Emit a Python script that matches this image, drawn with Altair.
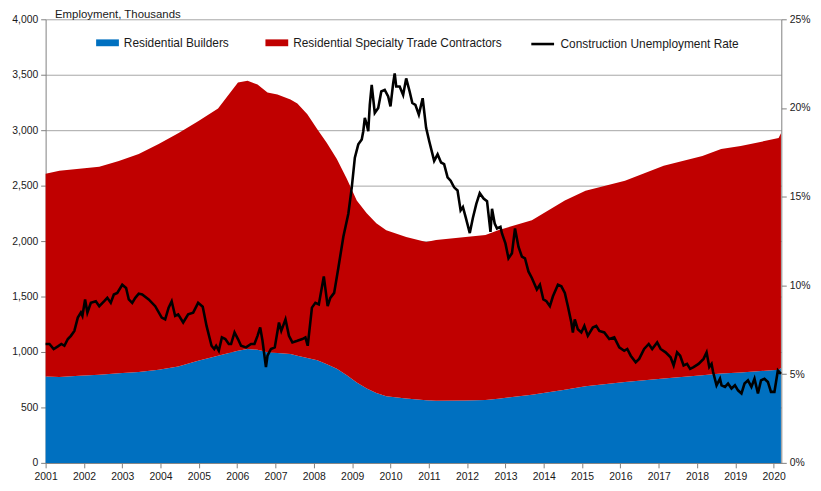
import altair as alt
import pandas as pd

# ---- Employment (thousands) ----
area_year = [2001.00, 2001.36, 2001.88, 2002.40, 2002.91, 2003.43, 2003.95, 2004.46, 2004.98, 2005.50,
             2006.02, 2006.27, 2006.53, 2006.79, 2007.05, 2007.39, 2007.57, 2007.83, 2008.09, 2008.34,
             2008.60, 2008.86, 2009.12, 2009.38, 2009.63, 2009.89, 2010.41, 2010.93, 2011.19, 2011.96,
             2012.48, 2012.81, 2013.69, 2014.55, 2015.09, 2016.12, 2017.13, 2018.14, 2018.63, 2019.14,
             2020.13, 2020.19]
builders = [780, 775, 785, 795, 808, 820, 840, 870, 922, 967,
            1012, 1027, 1020, 997, 990, 982, 965, 945, 925, 890,
            848, 790, 725, 670, 630, 600, 580, 565, 560, 562,
            568, 578, 615, 660, 690, 730, 760, 790, 805, 815,
            840, 855]
specialty = [1827, 1859, 1867, 1875, 1915, 1966, 2035, 2103, 2158, 2229,
             2417, 2419, 2391, 2342, 2331, 2295, 2276, 2198, 2084, 1994,
             1893, 1773, 1641, 1580, 1531, 1498, 1456, 1426, 1449, 1474,
             1486, 1520, 1573, 1706, 1765, 1815, 1919, 1978, 2025, 2042,
             2089, 2118]

# ---- Construction unemployment rate (%) ----
rate_year = [2001.00, 2001.10, 2001.21, 2001.32, 2001.41, 2001.49, 2001.58, 2001.66, 2001.75, 2001.84,
             2001.92, 2001.96, 2002.03, 2002.09, 2002.18, 2002.31, 2002.40, 2002.53, 2002.61, 2002.70,
             2002.78, 2002.87, 2003.00, 2003.10, 2003.17, 2003.26, 2003.34, 2003.43, 2003.52, 2003.69,
             2003.86, 2004.03, 2004.12, 2004.21, 2004.29, 2004.38, 2004.46, 2004.59, 2004.72, 2004.85,
             2004.98, 2005.10, 2005.20, 2005.33, 2005.40, 2005.45, 2005.52, 2005.60, 2005.69, 2005.78,
             2005.84, 2005.93, 2006.02, 2006.10, 2006.23, 2006.36, 2006.45, 2006.53, 2006.60, 2006.66,
             2006.75, 2006.79, 2006.88, 2006.98, 2007.09, 2007.15, 2007.26, 2007.35, 2007.44, 2007.57,
             2007.70, 2007.78, 2007.84, 2007.95, 2008.04, 2008.13, 2008.26, 2008.36, 2008.43, 2008.53,
             2008.64, 2008.77, 2008.90, 2008.99, 2009.07, 2009.16, 2009.25, 2009.29, 2009.33, 2009.38,
             2009.42, 2009.46, 2009.51, 2009.59, 2009.68, 2009.76, 2009.85, 2009.94, 2010.00, 2010.07,
             2010.11, 2010.15, 2010.24, 2010.33, 2010.41, 2010.50, 2010.57, 2010.65, 2010.74, 2010.84,
             2010.93, 2011.01, 2011.14, 2011.23, 2011.32, 2011.40, 2011.49, 2011.57, 2011.66, 2011.75,
             2011.83, 2011.89, 2011.96, 2012.07, 2012.15, 2012.24, 2012.33, 2012.43, 2012.52, 2012.61,
             2012.65, 2012.72, 2012.78, 2012.87, 2012.91, 2013.00, 2013.08, 2013.17, 2013.25, 2013.34,
             2013.43, 2013.51, 2013.60, 2013.69, 2013.82, 2013.90, 2013.99, 2014.07, 2014.16, 2014.24,
             2014.37, 2014.46, 2014.55, 2014.63, 2014.72, 2014.76, 2014.81, 2014.89, 2014.98, 2015.06,
             2015.15, 2015.28, 2015.37, 2015.45, 2015.58, 2015.71, 2015.84, 2015.97, 2016.10, 2016.18,
             2016.27, 2016.40, 2016.49, 2016.62, 2016.74, 2016.83, 2016.96, 2017.05, 2017.18, 2017.31,
             2017.39, 2017.48, 2017.56, 2017.65, 2017.74, 2017.82, 2017.91, 2018.04, 2018.17, 2018.25,
             2018.32, 2018.38, 2018.42, 2018.51, 2018.60, 2018.64, 2018.73, 2018.81, 2018.90, 2018.99,
             2019.07, 2019.16, 2019.24, 2019.33, 2019.42, 2019.50, 2019.59, 2019.67, 2019.76, 2019.85,
             2019.93, 2020.02, 2020.11, 2020.19]
rate = [6.70, 6.70, 6.42, 6.57, 6.70, 6.60, 6.98, 7.16, 7.44, 8.19,
        8.47, 8.28, 9.21, 8.47, 9.02, 9.11, 8.83, 9.11, 9.30, 9.02,
        9.49, 9.58, 10.04, 9.86, 9.21, 9.02, 9.30, 9.54, 9.49, 9.21,
        8.83, 8.19, 8.09, 8.75, 9.11, 8.28, 8.37, 7.91, 8.37, 8.47,
        9.02, 8.80, 7.72, 6.60, 6.42, 6.60, 6.32, 7.07, 6.98, 6.70,
        6.70, 7.35, 6.98, 6.60, 6.51, 6.70, 6.70, 7.16, 7.63, 6.88,
        5.40, 6.04, 6.42, 6.51, 7.91, 7.44, 8.09, 7.16, 6.79, 6.88,
        6.98, 7.07, 6.60, 8.75, 9.02, 8.93, 10.51, 8.83, 9.30, 9.58,
        11.0, 12.74, 14.04, 15.53, 17.20, 17.95, 18.23, 18.69, 19.44, 19.07,
        18.69, 20.18, 21.30, 19.72, 20.00, 20.93, 21.02, 20.65, 20.09, 21.39,
        21.95, 21.21, 21.21, 20.74, 21.67, 20.93, 20.28, 20.18, 19.63, 20.55,
        18.88, 18.14, 17.02, 17.39, 16.93, 16.84, 16.09, 15.90, 15.53, 15.35,
        14.23, 14.42, 13.86, 12.95, 13.80, 14.60, 15.20, 14.90, 14.75, 13.02,
        14.32, 13.49, 13.21, 13.30, 12.93, 12.37, 11.53, 11.81, 13.21, 12.18,
        11.62, 11.53, 10.79, 10.42, 9.77, 10.04, 9.21, 9.11, 8.83, 9.39,
        10.04, 9.95, 9.58, 8.83, 7.91, 7.35, 8.09, 7.53, 7.35, 7.72,
        7.16, 7.63, 7.72, 7.44, 7.35, 6.98, 7.07, 6.51, 6.32, 6.42,
        6.04, 5.67, 5.86, 6.42, 6.70, 6.42, 6.79, 6.42, 6.23, 5.95,
        5.49, 6.23, 6.04, 5.49, 5.58, 5.30, 5.40, 5.58, 5.86, 6.23,
        5.40, 5.58, 5.12, 4.37, 4.74, 4.37, 4.28, 4.47, 4.19, 4.37,
        4.09, 3.91, 4.47, 4.65, 4.28, 4.74, 3.91, 4.65, 4.74, 4.56,
        4.00, 4.00, 5.21, 5.02]

area_names = ["Residential Builders", "Residential Specialty Trade Contractors"]
area_colors = ["#0070C0", "#C00000"]
line_name = "Construction Unemployment Rate"
line_color = "#000000"
year_ticks = list(range(2001, 2021))
emp_ticks = list(range(0, 4001, 500))
rate_ticks = [0, 5, 10, 15, 20, 25]

area_df = pd.concat([
    pd.DataFrame({"year": area_year, "value": builders, "series": area_names[0], "order": 0}),
    pd.DataFrame({"year": area_year, "value": specialty, "series": area_names[1], "order": 1}),
])
rate_df = pd.DataFrame({"year": rate_year, "rate": rate, "series": line_name})

FONT = "Liberation Sans"
AX = "#7f7f7f"
TXT = "#1a1a1a"

x_axis = alt.Axis(values=year_ticks, format="d", title="", grid=False,
                  domainColor=AX, tickColor=AX, tickSize=5, labelPadding=4,
                  labelFont=FONT, labelFontSize=10.5, labelColor=TXT,
                  labelFlush=False, labelOverlap=False)
x_scale = alt.Scale(domain=[2001, 2020.2], nice=False, zero=False)

areas = alt.Chart(area_df).mark_area(interpolate="linear", opacity=1).encode(
    x=alt.X("year:Q", scale=x_scale, axis=x_axis),
    y=alt.Y("value:Q", stack="zero", scale=alt.Scale(domain=[0, 4000], nice=False),
            axis=alt.Axis(values=emp_ticks, format=",d", grid=True, gridColor="#a6a6a6",
                          domainColor=AX, tickColor=AX, tickSize=5, labelPadding=3,
                          labelFont=FONT, labelFontSize=10.5, labelColor=TXT,
                          labelOverlap=False,
                          title="Employment, Thousands", titleAngle=0, titleAlign="left",
                          titleBaseline="alphabetic", titleX=9, titleY=-2, titleFont=FONT,
                          titleFontSize=11.5, titleFontWeight="normal", titleColor=TXT)),
    color=alt.Color("series:N", scale=alt.Scale(domain=area_names, range=area_colors),
                    legend=alt.Legend(title=None, orient="none", legendX=51, legendY=12,
                                      direction="horizontal", symbolType="M-1,-0.3H1V0.3H-1Z",
                                      symbolSize=529, symbolStrokeWidth=0,
                                      labelFont=FONT, labelFontSize=12, labelColor=TXT,
                                      labelLimit=400, labelOffset=5, columnPadding=36)),
    order=alt.Order("order:Q", sort="ascending"),
)

line = alt.Chart(rate_df).mark_line(strokeWidth=2.6, interpolate="linear").encode(
    x=alt.X("year:Q", scale=x_scale, axis=x_axis),
    y=alt.Y("rate:Q", scale=alt.Scale(domain=[0, 25], nice=False),
            axis=alt.Axis(orient="right", values=rate_ticks, labelExpr="datum.value + '%'",
                          title="", grid=False, domainColor=AX, tickColor=AX, tickSize=5,
                          labelPadding=3, labelFont=FONT, labelFontSize=10.5,
                          labelColor=TXT, labelOverlap=False)),
    stroke=alt.Stroke("series:N", scale=alt.Scale(domain=[line_name], range=[line_color]),
                      legend=alt.Legend(title=None, orient="none", legendX=489, legendY=12,
                                        direction="horizontal", symbolType="stroke",
                                        symbolSize=529, symbolStrokeWidth=2.6,
                                        labelFont=FONT, labelFontSize=12, labelColor=TXT,
                                        labelLimit=400, labelOffset=5)),
)

chart = alt.layer(areas, line).resolve_scale(y="independent").properties(
    width=743, height=448,
    autosize=alt.AutoSizeParams(type="none"),
    padding={"left": 38, "top": 9, "right": 32, "bottom": 26},
).configure_view(stroke=None)

chart.save("out.html", embed_options={"renderer": "svg", "actions": False})
